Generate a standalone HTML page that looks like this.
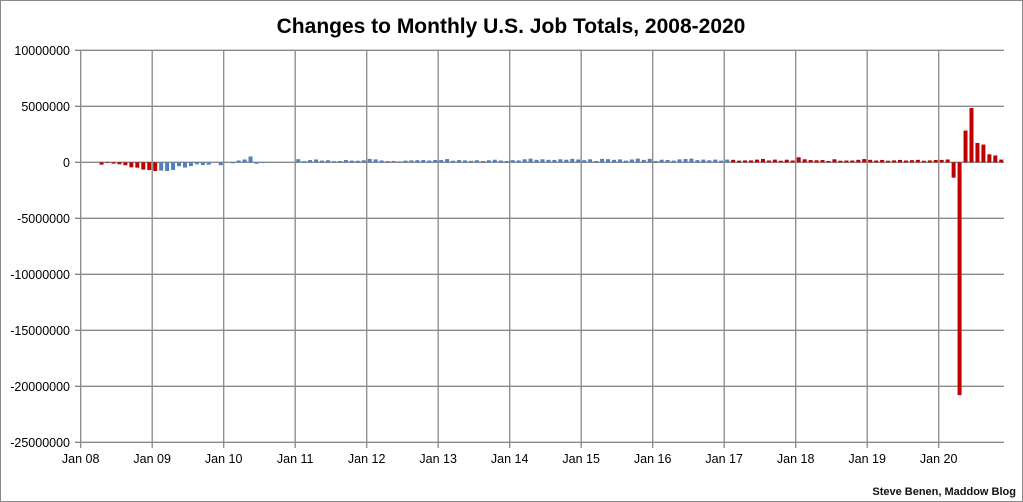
<!DOCTYPE html>
<html><head><meta charset="utf-8"><style>
body{margin:0;background:#fff;}
svg{display:block;font-family:"Liberation Sans",Arial,sans-serif;}
</style></head><body>
<svg id="s" width="1023" height="502" xmlns="http://www.w3.org/2000/svg">
<rect x="0.5" y="0.5" width="1022" height="501" fill="#fff" stroke="#888"/>
<text x="511" y="33" text-anchor="middle" font-size="21" font-weight="bold" fill="#000">Changes to Monthly U.S. Job Totals, 2008-2020</text>
<g id="grid"></g><g id="bars"></g><g id="lab"></g>
<text x="1016" y="495" text-anchor="end" font-size="11" font-weight="bold" fill="#111">Steve Benen, Maddow Blog</text>
</svg>
<script>
var ns="http://www.w3.org/2000/svg";
function el(p,t,a,txt){var e=document.createElementNS(ns,t);for(var k in a)e.setAttribute(k,a[k]);if(txt!=null)e.textContent=txt;document.getElementById(p).appendChild(e);}
var x0=80.7,mw=71.5/12,z=162.3,k=11.2;
for(var v=10;v>=-25;v-=5){var y=z-v*k;el("grid","line",{x1:75,x2:1004,y1:y,y2:y,stroke:"#888","stroke-width":1.3});
el("lab","text",{x:70,y:y+4.5,"text-anchor":"end","font-size":12.5,fill:"#000"},v==0?"0":(v*1000000).toString());}
for(var i=0;i<=12;i++){var x=x0+i*71.5;el("grid","line",{x1:x,x2:x,y1:50.3,y2:448,stroke:"#888","stroke-width":1.3});
el("lab","text",{x:x,y:463,"text-anchor":"middle","font-size":12.5,fill:"#000"},"Jan "+String(8+i).padStart(2,"0"));}
var d=[17,-5,-10,-210,-60,-120,-180,-260,-450,-480,-650,-690,
-780,-740,-780,-690,-350,-470,-340,-180,-240,-210,-20,-260,
20,-90,160,250,520,-130,-70,-30,-50,0,0,0,
280,100,200,250,150,180,100,120,200,150,140,180,
300,260,160,110,120,80,150,170,190,200,160,210,
200,290,140,200,170,130,180,120,180,230,160,120,
190,170,270,320,220,270,220,210,270,230,310,250,
190,270,120,310,280,220,260,150,250,330,220,310,
120,230,210,150,260,290,330,190,240,180,240,150,
240,220,150,170,170,240,300,160,240,140,230,160,
450,270,200,180,200,120,270,140,160,160,220,290,
220,160,210,140,170,210,160,190,220,140,170,210,
214,251,-1373,-20787,2833,4846,1726,1583,716,610,245];
for(var i=0;i<d.length;i++){var v=d[i]/1000,x=x0+i*mw+1,h=Math.abs(v)*k;
var c=(i<=12||i>=109)?"#c00000":"#4f81bd";
if(h<0.5)continue;
el("bars","rect",{x:x,y:v>0?z-h:z,width:4,height:h,fill:c});}
</script>
</body></html>
